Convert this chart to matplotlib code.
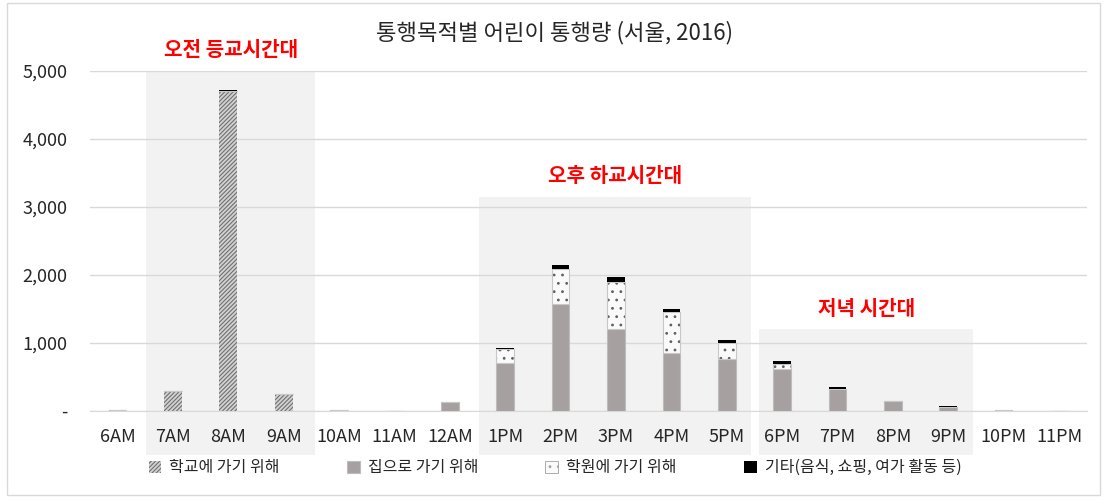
import matplotlib
matplotlib.use("Agg")
import matplotlib.pyplot as plt
from matplotlib.patches import Rectangle, Patch
import numpy as np

plt.rcParams['font.family'] = ['Noto Sans CJK KR', 'DejaVu Sans']
plt.rcParams['hatch.linewidth'] = 0.8

hours = ["6AM", "7AM", "8AM", "9AM", "10AM", "11AM", "12AM", "1PM", "2PM", "3PM",
         "4PM", "5PM", "6PM", "7PM", "8PM", "9PM", "10PM", "11PM"]
school = [10, 300, 4700, 250, 10, 5, 0, 0, 0, 0, 0, 0, 0, 0, 0, 0, 0, 0]
home = [0, 0, 0, 0, 0, 0, 130, 700, 1580, 1200, 850, 765, 620, 330, 140, 55, 10, 5]
academy = [0, 0, 0, 0, 0, 0, 0, 215, 510, 700, 600, 230, 75, 0, 0, 0, 0, 0]
other = [0, 0, 20, 0, 0, 0, 0, 10, 60, 70, 55, 50, 40, 20, 10, 20, 0, 0]

series_names = ["학교에 가기 위해", "집으로 가기 위해", "학원에 가기 위해", "기타(음식, 쇼핑, 여가 활동 등)"]
yticks = [0, 1000, 2000, 3000, 4000, 5000]
ytick_labels = ["-", "1,000", "2,000", "3,000", "4,000", "5,000"]

title = "통행목적별 어린이 통행량 (서울, 2016)"
zones = [("오전 등교시간대", 0.52, 3.56, 5000),
         ("오후 하교시간대", 6.53, 11.43, 3150),
         ("저녁 시간대", 11.59, 15.45, 1200)]

fig = plt.figure(figsize=(11.1, 5.04), dpi=100)
ax = fig.add_axes([0.081, 0.1845, 0.898, 0.6745])

x = np.arange(len(hours))
w = 0.32
s = np.array(school, float)
h = np.array(home, float)
a = np.array(academy, float)
o = np.array(other, float)

# shaded zones
for label, x0, x1, ytop in zones:
    ax.add_patch(Rectangle((x0, -650), x1 - x0, ytop + 650, facecolor="#F2F2F2",
                           edgecolor="none", zorder=0, clip_on=False))
    ax.text((x0 + x1) / 2, ytop + 160, label, color="#FF0000", fontsize=14.5,
            fontweight="bold", ha="center", va="bottom", zorder=5)

ax.bar(x, s, w, color="#D2D2D2", edgecolor="#707070", hatch="////////", linewidth=0,
       zorder=3)
ax.bar(x, h, w, bottom=s, color="#A6A0A0", edgecolor="#BDBDBD", linewidth=0.8,
       zorder=3)
ax.bar(x, a, w, bottom=s + h, color="#FAFAFA", edgecolor="#606060", hatch="..",
       linewidth=0, zorder=3)
ax.bar(x, a, w, bottom=s + h, color="none", edgecolor="#C8C8C8", linewidth=0.8, zorder=3)
ax.bar(x, o, w, bottom=s + h + a, color="#000000", linewidth=0, zorder=3)

ax.set_xlim(-0.5, len(hours) - 0.5)
ax.set_ylim(0, 5000)
ax.set_yticks(yticks)
ax.set_yticklabels(ytick_labels)
ax.set_xticks(x)
ax.set_xticklabels(hours)
ax.yaxis.grid(True, color="#D9D9D9", linewidth=1, zorder=1)
ax.set_axisbelow(False)
for sp in ax.spines.values():
    sp.set_visible(False)
ax.spines['bottom'].set_visible(True)
ax.spines['bottom'].set_color("#D9D9D9")
ax.tick_params(axis="both", length=0, labelsize=13, colors="#262626")
ax.tick_params(axis="y", pad=16)
ax.tick_params(axis="x", pad=12)
ax.patch.set_alpha(0)

fig.text(0.5, 0.935, title, ha="center", va="center", fontsize=16, color="#262626")

handles = [
    Patch(facecolor="#D2D2D2", edgecolor="#707070", hatch="////////", linewidth=0),
    Patch(facecolor="#A6A0A0", edgecolor="#BDBDBD", linewidth=0.8),
    Patch(facecolor="#FAFAFA", edgecolor="#A0A0A0", hatch="..", linewidth=0.6),
    Patch(facecolor="#000000", linewidth=0),
]
leg = fig.legend(handles, series_names, loc="center", bbox_to_anchor=(0.5, 0.072), ncol=4,
                 frameon=False, fontsize=11.5, handlelength=0.8, handleheight=0.8,
                 columnspacing=4.2, handletextpad=0.5)
for t in leg.get_texts():
    t.set_color("#262626")

fig.add_artist(Rectangle((0.0063, 0.018), 0.9843, 0.976, transform=fig.transFigure,
                         facecolor="none", edgecolor="#D9D9D9", linewidth=1))

fig.savefig("out.png", dpi=100)
